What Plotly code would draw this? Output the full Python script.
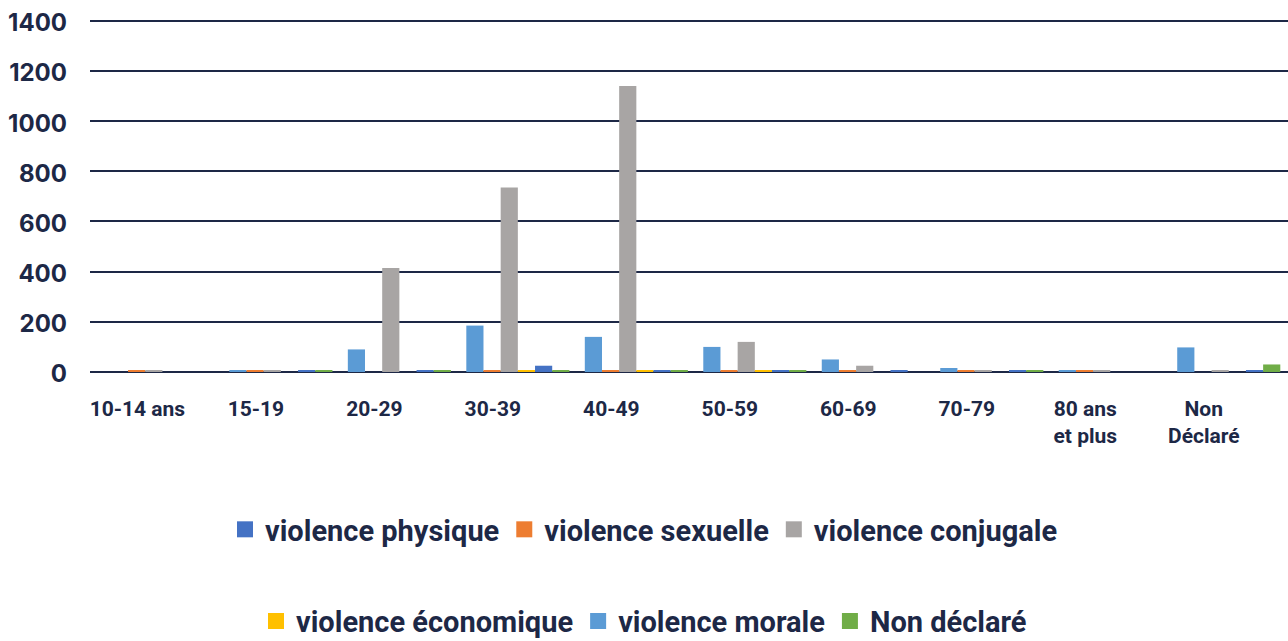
import plotly.graph_objects as go

categories = ["10-14 ans", "15-19", "20-29", "30-39", "40-49", "50-59",
              "60-69", "70-79", "80 ans<br>et plus", "Non<br>Déclaré"]

physique = [0, 8, 8, 25, 8, 8, 8, 8, 0, 8]
sexuelle = [8, 8, 0, 8, 8, 8, 8, 8, 8, 0]
conjugale = [8, 8, 415, 735, 1140, 120, 25, 8, 8, 8]
economique = [0, 0, 0, 8, 8, 8, 0, 0, 0, 0]
morale = [0, 8, 90, 185, 140, 100, 50, 16, 8, 98]
non_declare = [0, 8, 8, 8, 8, 8, 0, 8, 0, 30]

y_ticks = [0, 200, 400, 600, 800, 1000, 1200, 1400]

NAVY = "#1d2846"

# bar order within group (as in the reference): morale, sexuelle, conjugale, économique, physique, non déclaré
series = [
    ("violence morale", morale, "#5b9bd5", "legend2", 2),
    ("violence sexuelle", sexuelle, "#ed7d31", "legend", 2),
    ("violence conjugale", conjugale, "#a8a5a4", "legend", 3),
    ("violence économique", economique, "#ffc000", "legend2", 1),
    ("violence physique", physique, "#4472c4", "legend", 1),
    ("Non déclaré", non_declare, "#70ad47", "legend2", 3),
]

fig = go.Figure()
for name, vals, color, leg, rank in series:
    fig.add_trace(go.Bar(
        x=categories, y=vals, name=name, marker=dict(color=color, line=dict(width=0)),
        legendgroup=name, showlegend=False,
    ))
# legend entries with larger square swatches
for name, vals, color, leg, rank in series:
    fig.add_trace(go.Scatter(
        x=[categories[0]], y=[None], mode="markers", name=name,
        marker=dict(symbol="square", size=20, color=color),
        legend=leg, legendrank=rank, legendgroup=name, showlegend=True,
        hoverinfo="skip",
    ))

legend_font = dict(family="Roboto", size=29, color=NAVY, weight="bold")

fig.update_layout(
    width=1288, height=641,
    margin=dict(l=90, r=0, t=17, b=269, autoexpand=False),
    paper_bgcolor="white", plot_bgcolor="white",
    barmode="group", bargap=0.13, bargroupgap=0,
    showlegend=True,
    legend=dict(orientation="h", xref="container", yref="container",
                x=0.5, xanchor="center", y=0.174, yanchor="middle",
                font=legend_font, itemsizing="trace", itemwidth=30),
    legend2=dict(orientation="h", xref="container", yref="container",
                 x=0.5, xanchor="center", y=0.031, yanchor="middle",
                 font=legend_font, itemsizing="trace", itemwidth=30),
    xaxis=dict(
        tickfont=dict(family="Roboto", size=21, color=NAVY, weight="bold"),
        showline=False, ticks="", ticklabelstandoff=22, showgrid=False,
        ticklabelshift=-25, automargin=False,
    ),
    yaxis=dict(
        range=[0, 1415], tickvals=y_ticks,
        tickfont=dict(family="Inter", size=24, color=NAVY, weight="bold"),
        showgrid=True, gridcolor=NAVY, gridwidth=2,
        zeroline=True, zerolinecolor=NAVY, zerolinewidth=2,
        ticklabelstandoff=22, ticklabelshift=2, showline=False, automargin=False,
    ),
)

fig.write_html(
    "out.html",
    config={"displayModeBar": False},
    post_script="document.body.style.margin='0';document.body.style.overflow='hidden';",
)
